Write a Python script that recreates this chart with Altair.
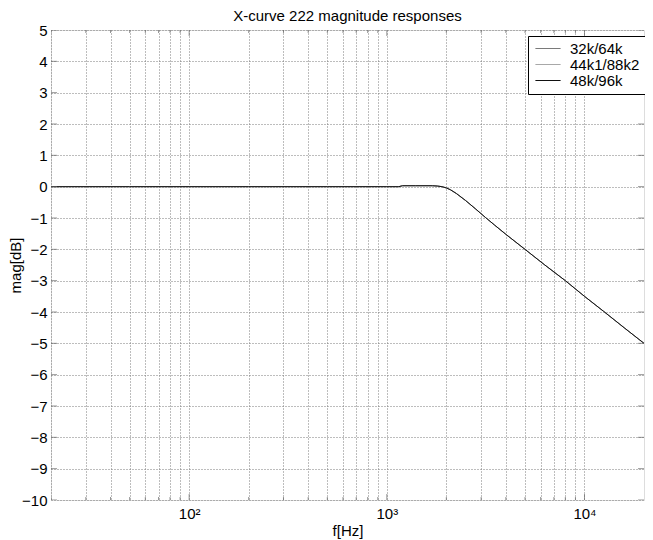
import altair as alt
import pandas as pd

# ---- data ----
freqs = [20, 50, 100, 200, 500, 1000, 1150, 1200, 1400, 1700, 1800, 1900, 2000,
         2100, 2250, 2500, 2800, 3150, 3500, 4000, 5000, 6300, 8000, 10000,
         12500, 16000, 20000]
mag_32k = [0, 0, 0, 0, 0, 0, 0, 0.03, 0.03, 0.03, 0.02, 0, -0.04,
           -0.1, -0.22, -0.44, -0.7, -0.98, -1.22, -1.52, -2.0, -2.5, -3.0, -3.5,
           -3.98, -4.52, -5.0]
mag_44k = [0, 0, 0, 0, 0, 0, 0, 0.03, 0.03, 0.03, 0.02, 0, -0.04,
           -0.1, -0.22, -0.44, -0.7, -0.98, -1.22, -1.52, -2.0, -2.5, -3.0, -3.5,
           -3.98, -4.52, -5.0]
mag_48k = [0, 0, 0, 0, 0, 0, 0, 0.03, 0.03, 0.03, 0.02, 0, -0.04,
           -0.1, -0.22, -0.44, -0.7, -0.98, -1.22, -1.52, -2.0, -2.5, -3.0, -3.5,
           -3.98, -4.52, -5.0]
series_names = ["32k/64k", "44k1/88k2", "48k/96k"]
series_colors = ["#7a7a7a", "#a8a8a8", "#111111"]

x_major = [100, 1000, 10000]
x_minor = [20, 30, 40, 50, 60, 70, 80, 90,
           200, 300, 400, 500, 600, 700, 800, 900,
           2000, 3000, 4000, 5000, 6000, 7000, 8000, 9000]
y_ticks = list(range(-10, 6))

rows = []
for name, vals in zip(series_names, [mag_32k, mag_44k, mag_48k]):
    for f, m in zip(freqs, vals):
        rows.append({"f": f, "mag": m, "series": name})
df = pd.DataFrame(rows)

W, H = 593, 470
FONT = "Liberation Sans"
FS = 15
FRAME = "#666666"
GRID = "#7a7a7a"

xscale = alt.Scale(type="log", domain=[20, 20000], nice=False)
yscale = alt.Scale(domain=[-10, 5], nice=False, zero=False)

all_x = sorted(x_minor + x_major)

xaxis = alt.Axis(values=all_x, grid=True, gridDash=[1, 2], gridColor=GRID,
                 gridWidth=1, ticks=False, domain=False,
                 labelExpr="datum.value == 100 ? '10²' : datum.value == 1000 ? '10³' : datum.value == 10000 ? '10⁴' : ''",
                 labelFont=FONT, labelFontSize=FS, labelColor="black",
                 labelPadding=6, titleFont=FONT, titleFontSize=FS,
                 titleFontWeight="normal", titleColor="black", titlePadding=2,
                 labelFlush=False, labelOverlap=False)
yaxis = alt.Axis(values=y_ticks, grid=True, gridDash=[1, 2], gridColor=GRID,
                 gridWidth=1, ticks=False, domain=False,
                 labelFont=FONT, labelFontSize=FS, labelColor="black",
                 labelPadding=4, titleFont=FONT, titleFontSize=FS,
                 titleFontWeight="normal", titleColor="black",
                 titleX=-36, titleY=H / 2, titleAngle=270, titleBaseline="middle",
                 titleAlign="center",
                 labelFlush=False, labelOverlap=False)

lines = alt.Chart(df).mark_line(strokeWidth=1, clip=True).encode(
    x=alt.X("f:Q", scale=xscale, title="f[Hz]", axis=xaxis),
    y=alt.Y("mag:Q", scale=yscale, title="mag[dB]", axis=yaxis),
    color=alt.Color("series:N",
                    scale=alt.Scale(domain=series_names, range=series_colors),
                    legend=alt.Legend(title=None, orient="none", legendX=477, legendY=6,
                                      symbolType="M-1.8,0H1.8", symbolSize=196,
                                      symbolStrokeWidth=1, labelFont=FONT,
                                      labelFontSize=FS, labelColor="black",
                                      labelOffset=14.5, symbolOffset=7.5,
                                      strokeColor="black",
                                      fillColor="white", padding=5, rowPadding=-1)),
    order=alt.Order("series:N"),
)

dfx_major = pd.DataFrame({"f": x_major})
dfx_minor = pd.DataFrame({"f": x_minor})
dfy = pd.DataFrame({"mag": y_ticks})

def xticks(d, length, ypos):
    return alt.Chart(d).mark_tick(size=2 * length, thickness=1, color=FRAME, clip=True).encode(
        x=alt.X("f:Q", scale=xscale, title="f[Hz]", axis=xaxis), y=alt.value(ypos))

def yticks(length, xpos):
    return alt.Chart(dfy).mark_tick(size=2 * length, thickness=1, color=FRAME, clip=True).encode(
        y=alt.Y("mag:Q", scale=yscale, title="mag[dB]", axis=yaxis), x=alt.value(xpos))

chart = alt.layer(
    lines,
    xticks(dfx_major, 6, H), xticks(dfx_minor, 3, H),
    xticks(dfx_major, 6, 0), xticks(dfx_minor, 3, 0),
    yticks(6, 0), yticks(6, W),
).properties(
    width=W, height=H,
    padding={"left": 43, "top": 22, "right": 1, "bottom": 40},
    autosize="none",
    title=alt.Title("X-curve 222 magnitude responses", font=FONT, fontSize=FS,
                    fontWeight="normal", color="black", offset=-1, anchor="middle"),
).configure_view(stroke=FRAME, strokeWidth=1).configure(background="white")

chart.save("out.html", embed_options={"renderer": "svg", "actions": False})
